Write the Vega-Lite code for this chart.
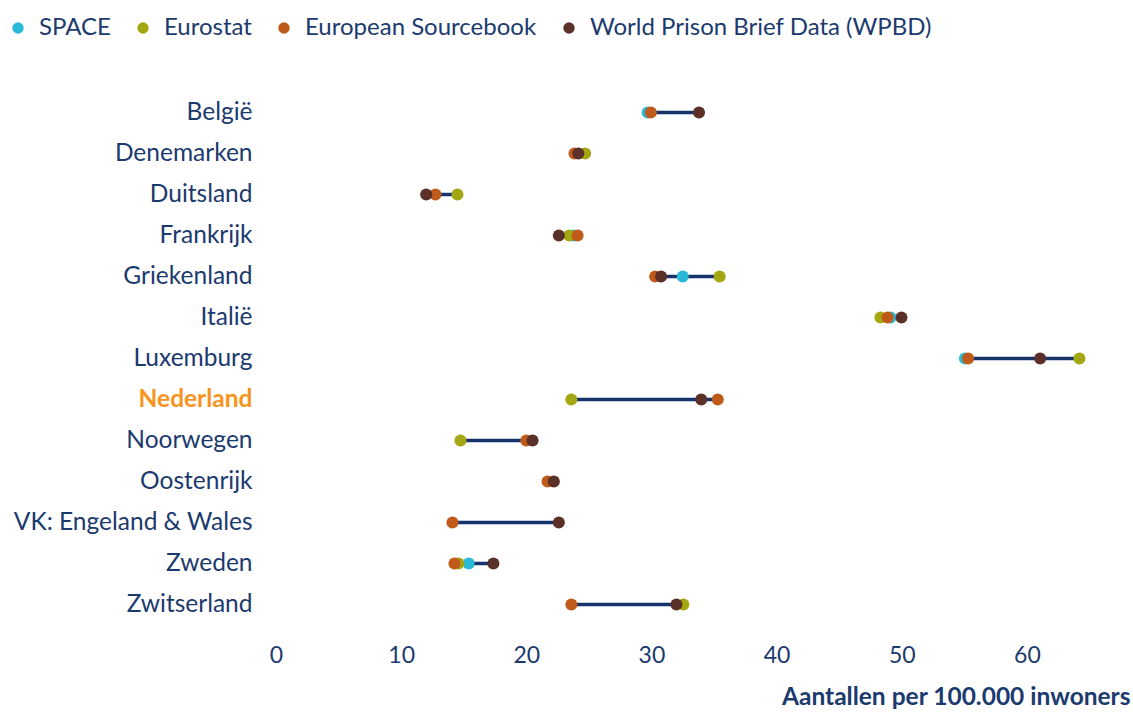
{
  "$schema": "https://vega.github.io/schema/vega-lite/v6.json",
  "autosize": "none",
  "width": 851,
  "height": 533,
  "padding": {"left": 276, "top": 92, "right": 6, "bottom": 88},
  "background": "white",
  "config": {
    "view": {"stroke": null},
    "font": "Lato"
  },
  "data": {
    "values": [
      {"land": "België", "bron": "SPACE", "waarde": 29.7},
      {"land": "België", "bron": "European Sourcebook", "waarde": 29.95},
      {"land": "België", "bron": "World Prison Brief Data (WPBD)", "waarde": 33.8},
      {"land": "Denemarken", "bron": "Eurostat", "waarde": 24.7},
      {"land": "Denemarken", "bron": "European Sourcebook", "waarde": 23.85},
      {"land": "Denemarken", "bron": "World Prison Brief Data (WPBD)", "waarde": 24.16},
      {"land": "Duitsland", "bron": "Eurostat", "waarde": 14.5},
      {"land": "Duitsland", "bron": "European Sourcebook", "waarde": 12.74},
      {"land": "Duitsland", "bron": "World Prison Brief Data (WPBD)", "waarde": 12.0},
      {"land": "Frankrijk", "bron": "SPACE", "waarde": 23.76},
      {"land": "Frankrijk", "bron": "Eurostat", "waarde": 23.44},
      {"land": "Frankrijk", "bron": "European Sourcebook", "waarde": 24.1},
      {"land": "Frankrijk", "bron": "World Prison Brief Data (WPBD)", "waarde": 22.6},
      {"land": "Griekenland", "bron": "SPACE", "waarde": 32.5},
      {"land": "Griekenland", "bron": "Eurostat", "waarde": 35.45},
      {"land": "Griekenland", "bron": "European Sourcebook", "waarde": 30.3},
      {"land": "Griekenland", "bron": "World Prison Brief Data (WPBD)", "waarde": 30.77},
      {"land": "Italië", "bron": "SPACE", "waarde": 49.1},
      {"land": "Italië", "bron": "Eurostat", "waarde": 48.3},
      {"land": "Italië", "bron": "European Sourcebook", "waarde": 48.87},
      {"land": "Italië", "bron": "World Prison Brief Data (WPBD)", "waarde": 49.98},
      {"land": "Luxemburg", "bron": "SPACE", "waarde": 55.05},
      {"land": "Luxemburg", "bron": "Eurostat", "waarde": 64.2},
      {"land": "Luxemburg", "bron": "European Sourcebook", "waarde": 55.3},
      {"land": "Luxemburg", "bron": "World Prison Brief Data (WPBD)", "waarde": 61.06},
      {"land": "Nederland", "bron": "Eurostat", "waarde": 23.6},
      {"land": "Nederland", "bron": "European Sourcebook", "waarde": 35.3},
      {"land": "Nederland", "bron": "World Prison Brief Data (WPBD)", "waarde": 33.98},
      {"land": "Noorwegen", "bron": "Eurostat", "waarde": 14.74},
      {"land": "Noorwegen", "bron": "European Sourcebook", "waarde": 20.0},
      {"land": "Noorwegen", "bron": "World Prison Brief Data (WPBD)", "waarde": 20.5},
      {"land": "Oostenrijk", "bron": "European Sourcebook", "waarde": 21.7},
      {"land": "Oostenrijk", "bron": "World Prison Brief Data (WPBD)", "waarde": 22.2},
      {"land": "VK: Engeland & Wales", "bron": "European Sourcebook", "waarde": 14.1},
      {"land": "VK: Engeland & Wales", "bron": "World Prison Brief Data (WPBD)", "waarde": 22.6},
      {"land": "Zweden", "bron": "SPACE", "waarde": 15.4},
      {"land": "Zweden", "bron": "Eurostat", "waarde": 14.58},
      {"land": "Zweden", "bron": "European Sourcebook", "waarde": 14.26},
      {"land": "Zweden", "bron": "World Prison Brief Data (WPBD)", "waarde": 17.37},
      {"land": "Zwitserland", "bron": "Eurostat", "waarde": 32.55},
      {"land": "Zwitserland", "bron": "European Sourcebook", "waarde": 23.6},
      {"land": "Zwitserland", "bron": "World Prison Brief Data (WPBD)", "waarde": 32.0}
    ]
  },
  "encoding": {
    "y": {
      "field": "land",
      "type": "nominal",
      "sort": null,
      "scale": {"paddingInner": 0, "paddingOuter": 0},
      "axis": {
        "title": null,
        "domain": false,
        "ticks": false,
        "labelPadding": 24,
        "labelFontSize": 24.5,
        "labelLimit": 400,
        "labelColor": {"condition": {"test": "datum.value === 'Nederland'", "value": "#f7941d"}, "value": "#1b3a6e"},
        "labelFontWeight": {"condition": {"test": "datum.value === 'Nederland'", "value": "bold"}, "value": "normal"}
      }
    }
  },
  "layer": [
    {
      "mark": {"type": "rule", "color": "#17336b", "strokeWidth": 3.5},
      "encoding": {
        "x": {"aggregate": "min", "field": "waarde", "type": "quantitative"},
        "x2": {"aggregate": "max", "field": "waarde"}
      }
    },
    {
      "mark": {"type": "circle", "size": 145, "opacity": 1},
      "encoding": {
        "x": {
          "field": "waarde",
          "type": "quantitative",
          "scale": {"domain": [0, 68], "nice": false, "zero": true},
          "axis": {
            "values": [0, 10, 20, 30, 40, 50, 60],
            "domain": false,
            "ticks": false,
            "grid": false,
            "labelFlush": false,
            "labelPadding": 19,
            "labelFontSize": 23,
            "labelColor": "#1b3a6e",
            "title": "Aantallen per 100.000 inwoners",
            "titleFontSize": 24.5,
            "titleFontWeight": "bold",
            "titleColor": "#1b3a6e",
            "titleX": 854,
            "titleAlign": "right",
            "titleBaseline": "middle",
            "titleY": 72
          }
        },
        "color": {
          "field": "bron",
          "type": "nominal",
          "scale": {
            "domain": ["SPACE", "Eurostat", "European Sourcebook", "World Prison Brief Data (WPBD)"],
            "range": ["#29b8d8", "#a3a812", "#c05a1a", "#5a3028"]
          },
          "legend": {
            "title": null,
            "orient": "none",
            "direction": "horizontal",
            "legendX": -270,
            "legendY": -76,
            "symbolType": "circle",
            "symbolSize": 130,
            "symbolOpacity": 1,
            "labelFontSize": 24,
            "labelColor": "#1b3a6e",
            "columnPadding": 20,
            "labelOffset": 9,
            "labelLimit": 600
          }
        }
      }
    }
  ]
}
